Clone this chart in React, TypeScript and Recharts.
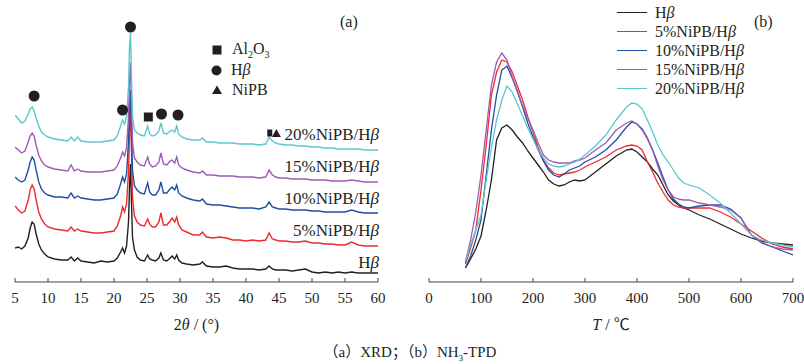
import React from "react";
import { ComposedChart, Line, Scatter, XAxis, YAxis, Legend } from "recharts";

const twoTheta = [
  5, 5.5, 6, 6.5, 7, 7.3, 7.6, 7.9, 8.2, 8.6,
  9, 9.5, 10, 11, 12, 13, 13.5, 14, 14.5, 15,
  16, 17, 18, 19, 20, 20.5, 21, 21.3, 21.6, 21.9,
  22.2, 22.35, 22.5, 22.65, 22.8, 23.1, 23.5, 24, 24.6,
  25.1, 25.4, 25.8, 26.3, 26.8, 27.1, 27.5, 28, 28.5, 28.8,
  29.2, 29.5, 29.8, 30.3, 31, 32, 33, 33.4,
  34, 35, 36, 37, 38, 39, 40, 41, 42, 43,
  43.5, 44, 44.5,
  45, 46, 47, 48, 49, 50, 51, 52, 53, 54, 55, 56, 57, 58, 59, 60,
];

const xrdHbeta = [
  34, 35, 33, 36, 44, 54, 60, 58, 48, 38,
  32, 28, 25, 23, 22, 22, 25, 21, 24, 21,
  20, 19, 21, 20, 21, 24, 30, 34, 29, 36,
  60, 95, 118, 80, 45, 32, 25, 22, 21,
  27, 23, 22, 21, 24, 29, 22, 21, 24, 26,
  23, 27, 22, 19, 18, 17, 18, 20,
  16, 15, 15, 16, 14, 13, 13, 13, 12, 13,
  16, 13, 12,
  12, 12, 11, 12, 13, 10, 9, 10, 9, 10, 9, 10, 9, 9, 9, 9,
];

const xrd5 = [
  76, 72, 69, 71, 82, 92, 97, 93, 82, 70,
  63, 58, 55, 53, 52, 51, 55, 51, 53, 51,
  50, 49, 49, 50, 51, 56, 66, 75, 70, 78,
  110, 150, 177, 130, 85, 66, 60, 57, 56,
  63, 58, 55, 55, 60, 69, 57, 57, 61, 64,
  60, 65, 57, 52, 50, 47, 47, 50,
  45, 44, 45, 44, 42, 42, 41, 42, 41, 42,
  49, 43, 42,
  41, 41, 40, 40, 41, 39, 39, 38, 38, 37, 37, 40, 37, 36, 36, 36,
];

const xrd10 = [
  105, 102, 100, 102, 112, 120, 125, 122, 112, 100,
  93, 89, 87, 85, 85, 84, 89, 84, 86, 84,
  83, 82, 82, 83, 84, 88, 98, 105, 100, 108,
  140, 175, 192, 150, 112, 96, 92, 89, 88,
  99, 90, 87, 87, 92, 100, 89, 89, 93, 95,
  92, 97, 89, 86, 84, 82, 81, 83,
  78, 77, 77, 76, 75, 74, 74, 74, 73, 75,
  80, 75, 74,
  73, 73, 72, 72, 72, 71, 71, 70, 70, 70, 70, 72, 70, 69, 69, 69,
];

const xrd15 = [
  135, 132, 129, 131, 140, 146, 149, 146, 137, 127,
  121, 117, 115, 113, 112, 111, 117, 111, 113, 111,
  110, 110, 110, 111, 112, 116, 124, 130, 126, 134,
  165, 200, 219, 180, 140, 124, 120, 117, 116,
  125, 118, 115, 116, 120, 129, 118, 117, 121, 122,
  119, 125, 117, 114, 112, 110, 109, 111,
  107, 107, 106, 106, 106, 105, 105, 105, 104, 105,
  112, 107, 105,
  104, 104, 103, 103, 103, 102, 102, 102, 101, 101, 101, 102, 101, 100, 100, 100,
];

const xrd20 = [
  167, 163, 159, 161, 168, 173, 175, 171, 164, 156,
  150, 147, 145, 143, 142, 141, 145, 141, 145, 141,
  140, 140, 140, 141, 142, 146, 156, 162, 158, 165,
  195, 235, 249, 205, 165, 152, 149, 147, 146,
  156, 148, 146, 147, 151, 159, 149, 148, 151, 152,
  150, 156, 148, 145, 143, 142, 142, 144,
  140, 140, 139, 139, 139, 138, 138, 138, 137, 138,
  145, 141, 139,
  138, 137, 137, 136, 136, 135, 135, 134, 134, 133, 133, 133, 133, 132, 132, 132,
];

const twoThetaTicks = [5, 10, 15, 20, 25, 30, 35, 40, 45, 50, 55, 60];

// phase markers above the diffraction peaks
const peakMarkers = [
  { x: 7.9, y: 186, kind: "circle" },
  { x: 21.3, y: 172, kind: "circle" },
  { x: 22.5, y: 255, kind: "circle" },
  { x: 25.2, y: 165, kind: "square" },
  { x: 27.2, y: 168, kind: "circle" },
  { x: 29.7, y: 167, kind: "circle" },
  { x: 43.6, y: 149, kind: "smallSquare" },
  { x: 44.6, y: 149, kind: "triangle" },
];

const phaseLegend = [
  { kind: "square", label: "Al2O3" },
  { kind: "circle", label: "Hβ" },
  { kind: "triangle", label: "NiPB" },
];

// (b) NH3-TPD
const tpdTemp = [
  70, 80, 90, 100, 110, 120, 130, 140, 150, 160, 170, 180,
  190, 200, 210, 220, 230, 240, 250, 260, 270, 280, 290, 300,
  320, 340, 360, 380,
  390, 400, 410, 420, 430, 440, 450, 460, 470, 480, 490, 500,
  520, 540, 560, 580, 600, 620, 640, 660, 680, 700,
];

const tpdHbeta = [
  14, 23, 33, 46, 72, 102, 142, 154, 157, 152, 145, 139,
  131, 124, 117, 110, 102, 98, 96, 97, 100, 102, 101, 102,
  110, 118, 126, 132,
  133, 130, 125, 120, 113, 107, 97, 87, 81, 77, 74, 72,
  67, 63, 58, 53, 48, 44, 41, 39, 38, 37,
];

const tpd5 = [
  18, 34, 52, 92, 137, 187, 210, 222, 220, 210, 196, 182,
  165, 150, 134, 122, 114, 109, 107, 108, 109, 110, 112, 115,
  120, 125, 132, 136,
  137, 136, 132, 120, 110, 99, 90, 82, 77, 75, 74, 74,
  74, 74, 70, 65, 58, 51, 44, 38, 35, 33,
];

const tpd10 = [
  14, 26, 42, 62, 107, 152, 187, 212, 216, 204, 191, 175,
  159, 145, 132, 121, 112, 107, 105, 108, 112, 114, 116, 120,
  125, 132, 142, 155,
  160, 158, 153, 144, 132, 119, 105, 92, 83, 78, 75, 74,
  76, 77, 77, 73, 64, 47, 39, 35, 31, 27,
];

const tpd15 = [
  20, 42, 70, 107, 152, 197, 220, 229, 222, 205, 190, 176,
  164, 152, 139, 127, 122, 120, 119, 119, 119, 121, 122, 124,
  132, 139, 152, 159,
  161, 158, 152, 143, 132, 116, 102, 92, 85, 83, 82, 82,
  79, 77, 75, 72, 64, 47, 40, 35, 33, 32,
];

const tpd20 = [
  21, 37, 52, 67, 102, 134, 162, 182, 196, 190, 178, 166,
  154, 143, 132, 124, 118, 116, 115, 116, 118, 120, 123, 127,
  136, 147, 162, 175,
  179, 178, 173, 162, 150, 137, 127, 120, 112, 104, 99, 97,
  94, 87, 79, 69, 58, 47, 42, 39, 37, 35,
];

const tempTicks = [0, 100, 200, 300, 400, 500, 600, 700];

const seriesNames = ["Hβ", "5%NiPB/Hβ", "10%NiPB/Hβ", "15%NiPB/Hβ", "20%NiPB/Hβ"];
const seriesColors = ["#231f20", "#ee2a2e", "#1f4fa3", "#a05ab4", "#5cc6d0"];
const seriesKeys = ["s0", "s1", "s2", "s3", "s4"];

const xrdSeries = [xrdHbeta, xrd5, xrd10, xrd15, xrd20];
const tpdSeries = [tpdHbeta, tpd5, tpd10, tpd15, tpd20];

const xrdRows = twoTheta.map((x, i) => {
  const row: { [k: string]: number } = { x };
  xrdSeries.forEach((s, j) => (row[seriesKeys[j]] = s[i]));
  return row;
});

const tpdRows = tpdTemp.map((x, i) => {
  const row: { [k: string]: number } = { x };
  tpdSeries.forEach((s, j) => (row[seriesKeys[j]] = s[i]));
  return row;
});

const serif = "'Liberation Serif', 'Times New Roman', 'Noto Sans CJK SC', serif";
const ink = "#231f20";

const withBeta = (name: string) => (
  <>
    {name.slice(0, -1)}
    <i>β</i>
  </>
);

const Symbol = ({ kind, size = 12 }: { kind: string; size?: number }) => (
  <svg width={size} height={size} style={{ display: "block" }}>
    {kind === "circle" && <circle cx={size / 2} cy={size / 2} r={size / 2 - 0.5} fill={ink} />}
    {kind === "square" && <rect x={1.5} y={1.5} width={size - 3} height={size - 3} fill={ink} />}
    {kind === "triangle" && (
      <polygon points={`${size / 2},1.5 ${size - 1},${size - 2} 1,${size - 2}`} fill={ink} />
    )}
  </svg>
);

const PeakMark = (props: any) => {
  const { cx, cy, payload } = props;
  if (cx == null || cy == null) return null;
  if (payload.kind === "circle") return <circle cx={cx} cy={cy} r={5.5} fill={ink} />;
  if (payload.kind === "square") return <rect x={cx - 4.5} y={cy - 4.5} width={9} height={9} fill={ink} />;
  if (payload.kind === "smallSquare") return <rect x={cx - 2.5} y={cy - 3.5} width={5} height={7} fill={ink} />;
  return <polygon points={`${cx},${cy - 4} ${cx + 4.5},${cy + 4} ${cx - 4.5},${cy + 4}`} fill={ink} />;
};

const PhaseLegend = () => (
  <div style={{ fontFamily: serif, fontSize: 16, color: ink }}>
    {phaseLegend.map((p) => (
      <div key={p.label} style={{ display: "flex", alignItems: "center", height: 20 }}>
        <Symbol kind={p.kind} size={p.kind === "circle" ? 11 : 12} />
        <span style={{ marginLeft: 9 }}>
          {p.label === "Al2O3" ? (
            <>
              Al<sub style={{ fontSize: 10 }}>2</sub>O<sub style={{ fontSize: 10 }}>3</sub>
            </>
          ) : p.label === "Hβ" ? (
            withBeta(p.label)
          ) : (
            p.label
          )}
        </span>
      </div>
    ))}
  </div>
);

const TpdLegend = () => (
  <div style={{ fontFamily: serif, fontSize: 16, color: ink }}>
    {seriesNames.map((n, i) => (
      <div key={n} style={{ display: "flex", alignItems: "center", height: 19 }}>
        <span style={{ width: 30, borderTop: `1.5px solid ${seriesColors[i]}` }} />
        <span style={{ marginLeft: 8 }}>{withBeta(n)}</span>
      </div>
    ))}
  </div>
);

const axisProps = {
  type: "number" as const,
  dataKey: "x",
  interval: 0 as const,
  tickSize: -4,
  tickMargin: 14,
  height: 56,
  allowDataOverflow: true,
  axisLine: { stroke: "#444", strokeWidth: 1.2 },
  tickLine: { stroke: "#444", strokeWidth: 1 },
  tick: { fill: ink, fontSize: 15, fontFamily: serif },
};

const textStyle: React.CSSProperties = {
  position: "absolute",
  fontFamily: serif,
  fontSize: 16,
  lineHeight: "16px",
  color: ink,
  whiteSpace: "nowrap",
};

// right-hand labels of the stacked XRD patterns (top to bottom)
const xrdLabelTops = [254, 222, 190, 158, 126];

const App: React.FC = () => {
  return (
    <div
      style={{
        position: "absolute",
        left: 0,
        top: 0,
        width: 804,
        height: 364,
        background: "#fff",
        overflow: "hidden",
      }}
    >
      {/* (a) XRD */}
      <div style={{ position: "absolute", left: 0, top: 0 }}>
        <ComposedChart width={400} height={338} data={xrdRows} margin={{ top: 2, right: 22, left: 15, bottom: 0 }}>
          <XAxis {...axisProps} domain={[5, 60]} ticks={twoThetaTicks} />
          <YAxis hide domain={[0, 280]} allowDataOverflow />
          {seriesKeys.map((k, i) => (
            <Line
              key={k}
              dataKey={k}
              type="linear"
              stroke={seriesColors[i]}
              strokeWidth={1.4}
              dot={false}
              activeDot={false}
              isAnimationActive={false}
            />
          ))}
          <Scatter data={peakMarkers} dataKey="y" shape={PeakMark} isAnimationActive={false} />
          <Legend
            layout="vertical"
            align="center"
            verticalAlign="middle"
            content={PhaseLegend}
            wrapperStyle={{ left: 211, top: 40, width: 120 }}
          />
        </ComposedChart>
      </div>

      {/* (b) NH3-TPD */}
      <div style={{ position: "absolute", left: 400, top: 0 }}>
        <ComposedChart width={404} height={338} data={tpdRows} margin={{ top: 2, right: 11, left: 29, bottom: 0 }}>
          <XAxis {...axisProps} domain={[0, 700]} ticks={tempTicks} />
          <YAxis hide domain={[0, 280]} allowDataOverflow />
          {seriesKeys.map((k, i) => (
            <Line
              key={k}
              dataKey={k}
              type="linear"
              stroke={seriesColors[i]}
              strokeWidth={1.3}
              dot={false}
              activeDot={false}
              isAnimationActive={false}
            />
          ))}
          <Legend
            layout="vertical"
            align="center"
            verticalAlign="middle"
            content={TpdLegend}
            wrapperStyle={{ left: 217, top: 3, width: 170 }}
          />
        </ComposedChart>
      </div>

      {xrdLabelTops.map((top, i) => (
        <div key={seriesNames[i]} style={{ ...textStyle, fontSize: 17, lineHeight: "17px", top, right: 804 - 379 }}>
          {withBeta(seriesNames[i])}
        </div>
      ))}

      <div style={{ ...textStyle, left: 340, top: 14 }}>(a)</div>
      <div style={{ ...textStyle, left: 754, top: 14 }}>(b)</div>

      <div style={{ ...textStyle, left: 15, width: 363, top: 317, textAlign: "center" }}>
        2<i>θ</i> / (°)
      </div>
      <div style={{ ...textStyle, left: 429, width: 364, top: 317, textAlign: "center" }}>
        <i>T</i> / ℃
      </div>

      <div style={{ ...textStyle, left: 8, width: 804, top: 344, fontSize: 15, textAlign: "center" }}>
        （a）XRD；（b）NH<sub style={{ fontSize: 9 }}>3</sub>-TPD
      </div>
    </div>
  );
};

export default App;
